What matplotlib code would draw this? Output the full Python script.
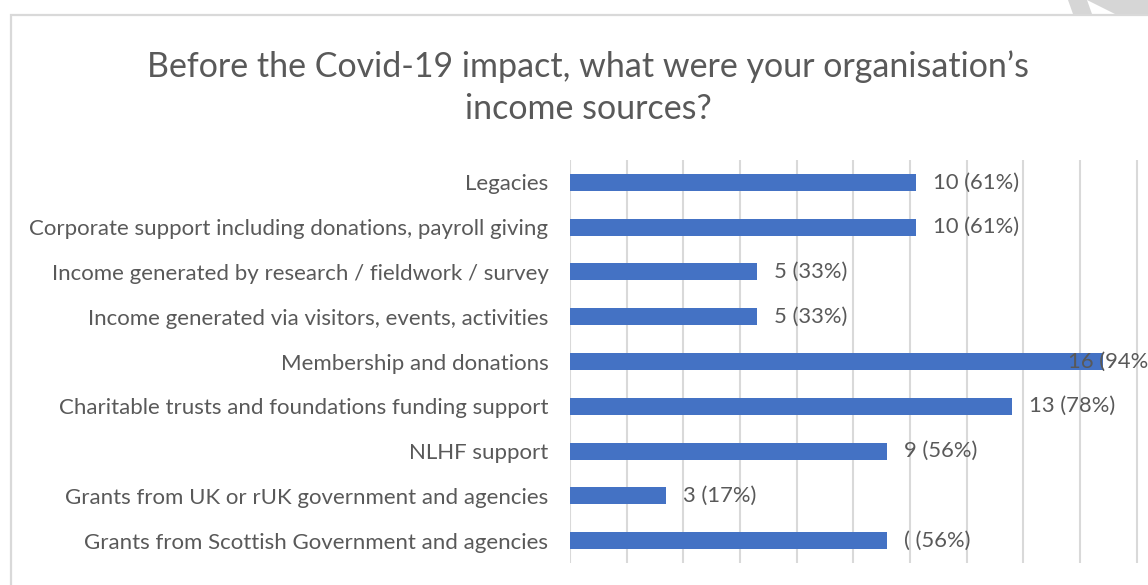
import matplotlib
matplotlib.use('Agg')
from matplotlib import pyplot as plt
from matplotlib.patches import Polygon, Rectangle

categories = [
    'Legacies',
    'Corporate support including donations, payroll giving',
    'Income generated by research / fieldwork / survey',
    'Income generated via visitors, events, activities',
    'Membership and donations',
    'Charitable trusts and foundations funding support',
    'NLHF support',
    'Grants from UK or rUK government and agencies',
    'Grants from Scottish Government and agencies',
]
percents = [61, 61, 33, 33, 94, 78, 56, 17, 56]
value_labels = ['10 (61%)', '10 (61%)', '5 (33%)', '5 (33%)', '16 (94%)',
                '13 (78%)', '9 (56%)', '3 (17%)', '( (56%)']
title_lines = ['Before the Covid-19 impact, what were your organisation\u2019s',
               'income sources?']

W, H = 1148, 585
plt.rcParams['font.family'] = ['Lato', 'DejaVu Sans']
text_col = '#595959'
grid_col = '#d9d9d9'

fig = plt.figure(figsize=(W / 100, H / 100), dpi=100)

# frame of the chart area (cropped on right and bottom)
fig.add_artist(Rectangle((11 / W, -0.1), 1.2, 1 - 15 / H + 0.1,
                         transform=fig.transFigure, fill=False,
                         edgecolor=grid_col, lw=1.6))
# grey shape peeking in at the top right
fig.add_artist(Polygon([(1068 / W, 1), (1087 / W, 1), (1092 / W, 1 - 14 / H),
                        (1073 / W, 1 - 14 / H)],
                       transform=fig.transFigure, color='#d6d6d6', lw=0))
fig.add_artist(Polygon([(1087 / W, 1), (1148 / W, 1), (1148 / W, 1 - 14 / H),
                        (1115 / W, 1 - 14 / H)],
                       transform=fig.transFigure, color='#d6d6d6', lw=0))

# two title lines, 42 px apart
for i, line in enumerate(title_lines):
    fig.text(588 / W, 1 - (64 + 42 * i) / H, line, ha='center',
             va='center_baseline', fontsize=24.5, color=text_col)

ax = fig.add_axes([570 / W, 1 - 563 / H, 1 - 570 / W, (563 - 160) / H])
y = list(range(len(categories)))
ax.barh(y, percents, height=0.38, color='#4472C4', zorder=3)
ax.set_ylim(len(categories) - 0.5, -0.5)
xmax = (W - 570) / 5.667
ax.set_xlim(0, xmax)
ax.set_xticks(range(0, 110, 10))
ax.xaxis.grid(True, color=grid_col, lw=1.5, zorder=0)
ax.tick_params(axis='x', length=0, labelbottom=False)
ax.set_yticks(y)
ax.set_yticklabels(categories, fontsize=16, color=text_col)
ax.tick_params(axis='y', length=0, pad=15.5)
for s in ax.spines.values():
    s.set_visible(False)

# value labels sit just past the bar end; Excel pulls them back in when
# they would run off the right edge of the chart
for yi, p, lab in zip(y, percents, value_labels):
    xt = p + 17 / 5.667
    if xt + 86 / 5.667 > xmax + 6 / 5.667:
        xt = xmax + 6 / 5.667 - 86 / 5.667
    ax.text(xt, yi, lab, va='center', ha='left', fontsize=15.8,
            color=text_col, zorder=4)

fig.savefig('out.png', dpi=100)
